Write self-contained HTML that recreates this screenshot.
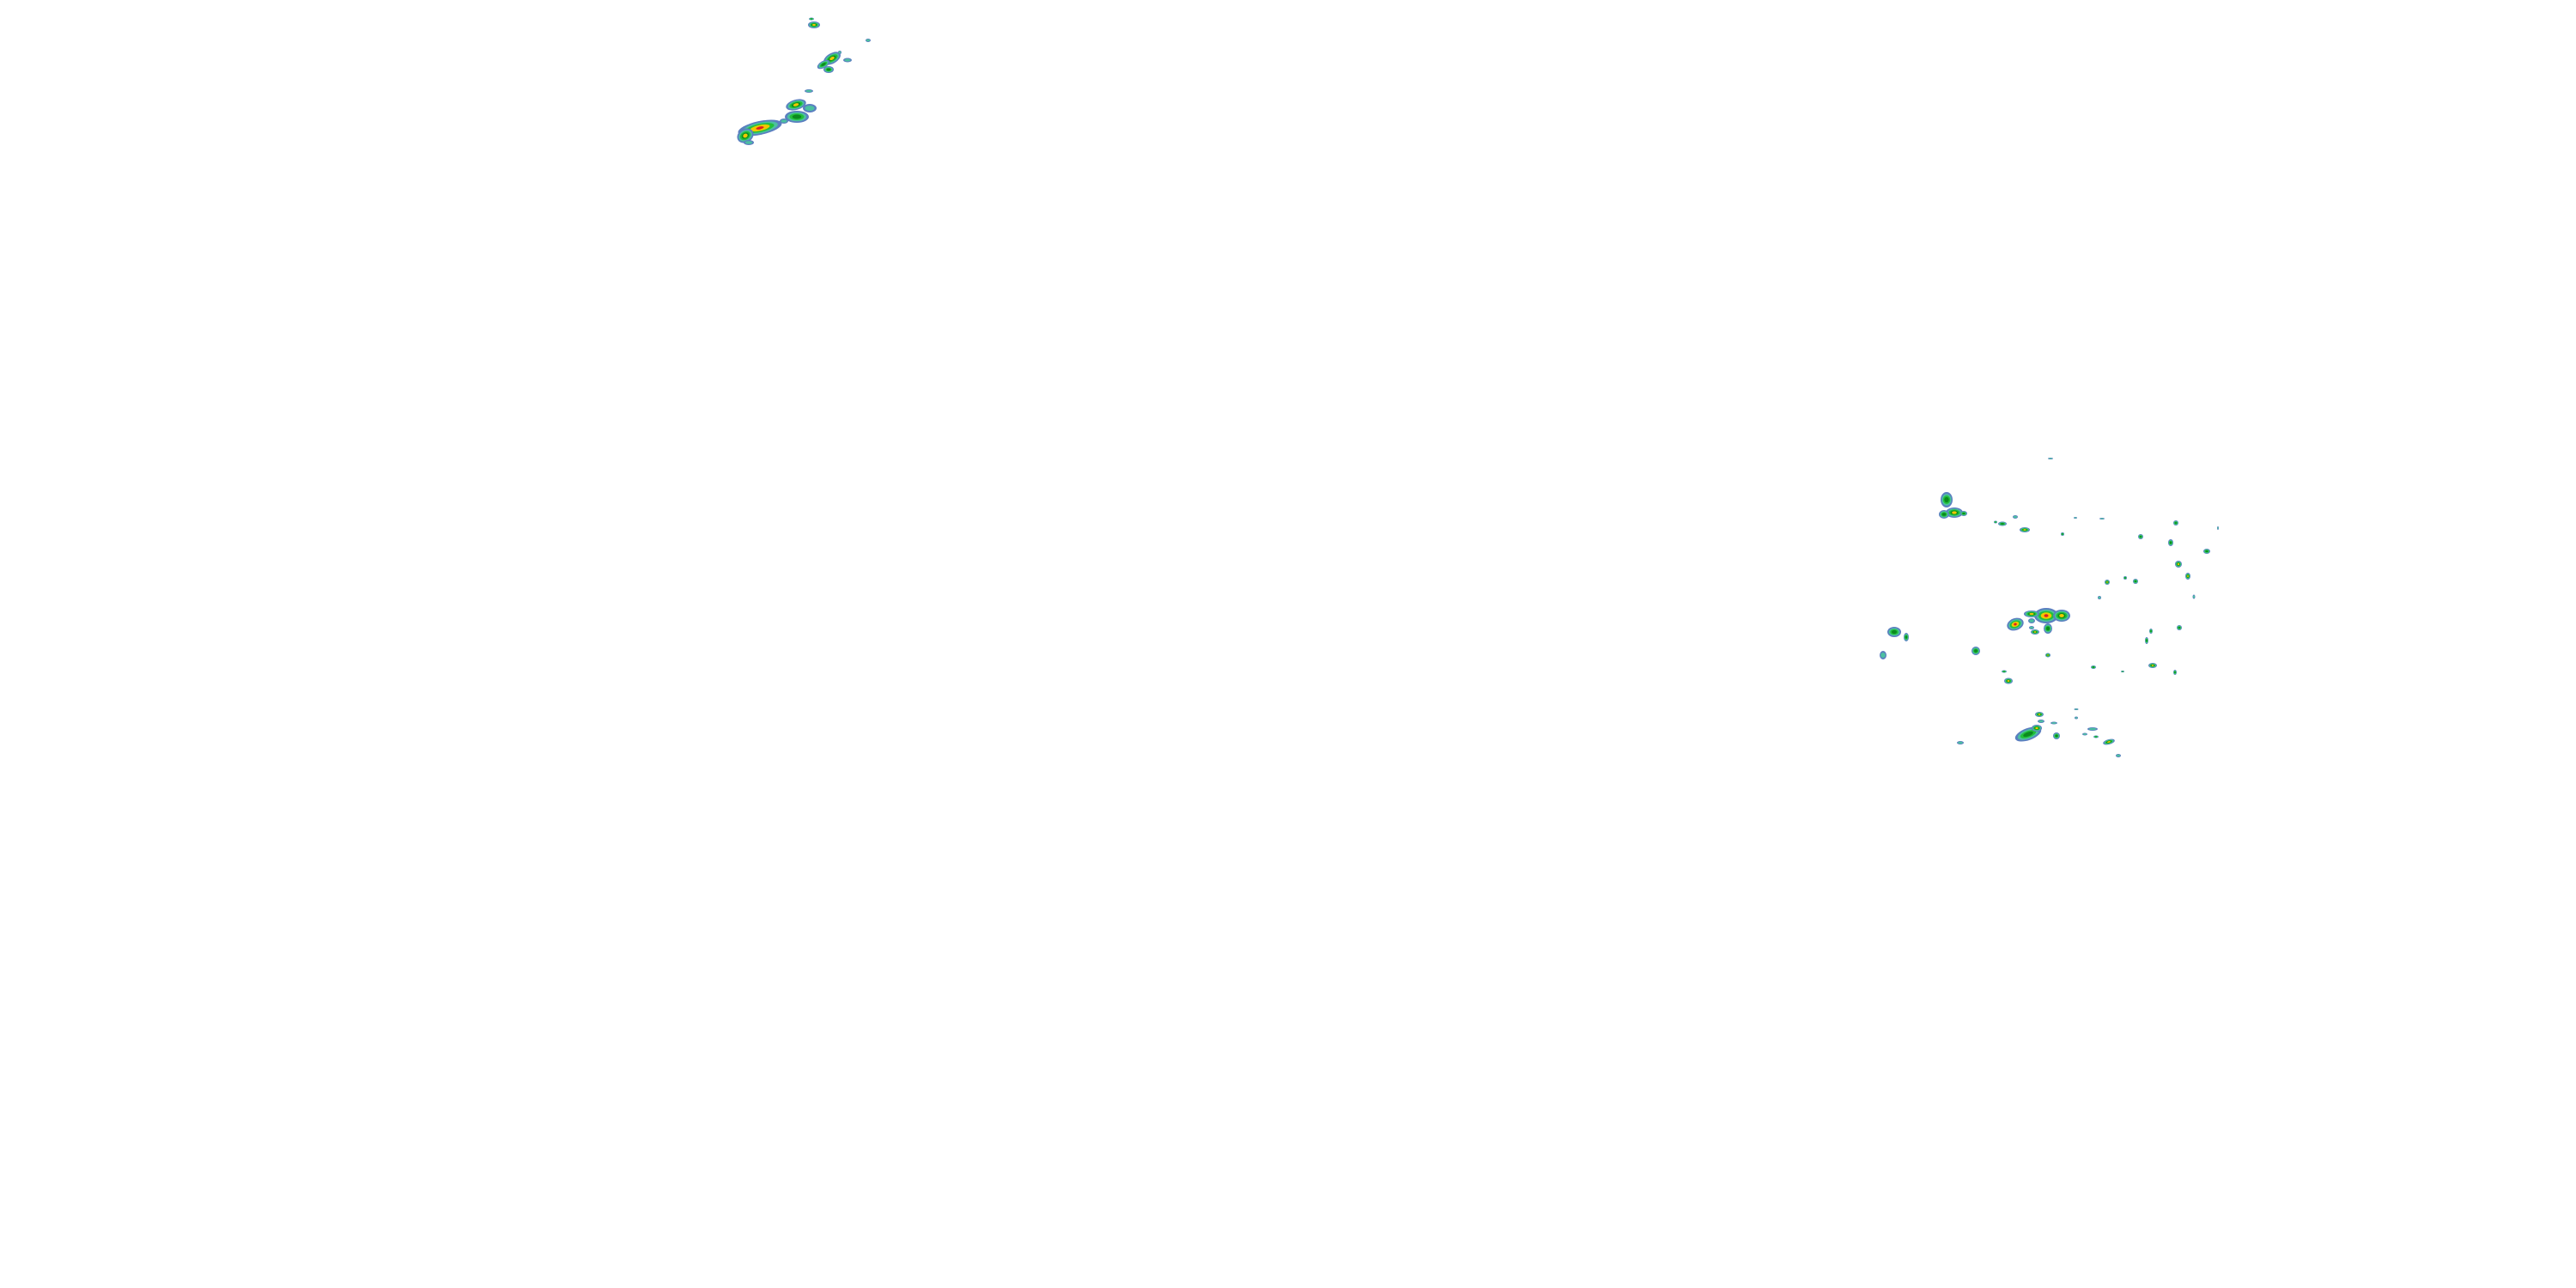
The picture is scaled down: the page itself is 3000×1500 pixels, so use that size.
<!DOCTYPE html>
<html><head><style>html,body{margin:0;padding:0;background:#fff;width:3000px;height:1500px;overflow:hidden}</style></head>
<body>
<svg width="3000" height="1500" xmlns="http://www.w3.org/2000/svg">
<defs>
<g id="b">
<ellipse rx="1" ry="1" fill="#5b7fc0"/>
<ellipse rx="0.8" ry="0.75" fill="#4cc0a0"/>
<ellipse rx="0.6" ry="0.55" fill="#22c03a"/>
<ellipse rx="0.38" ry="0.35" fill="#0b8a20"/>
</g>
<g id="y">
<ellipse rx="1" ry="1" fill="#5b7fc0"/>
<ellipse rx="0.82" ry="0.78" fill="#4cc0a0"/>
<ellipse rx="0.65" ry="0.6" fill="#22c03a"/>
<ellipse rx="0.45" ry="0.42" fill="#0b8a20"/>
<ellipse rx="0.28" ry="0.28" fill="#f0c800"/>
</g>
<g id="r">
<ellipse rx="1" ry="1" fill="#5b7fc0"/>
<ellipse rx="0.82" ry="0.78" fill="#4cc0a0"/>
<ellipse rx="0.65" ry="0.6" fill="#22c03a"/>
<ellipse rx="0.45" ry="0.42" fill="#f0c800"/>
<ellipse rx="0.18" ry="0.2" fill="#e02020"/>
</g>
<g id="t">
<ellipse rx="1" ry="1" fill="#5b7fc0"/>
<ellipse rx="0.7" ry="0.6" fill="#4cc0a0"/>
</g>
</defs>
<!-- top-left cluster -->
<use href="#y" transform="translate(948,29) scale(7,4)"/>
<use href="#b" transform="translate(945,22) scale(3,1.5)"/>
<use href="#y" transform="translate(969,68) rotate(-30) scale(11,6)"/>
<use href="#b" transform="translate(959,75) rotate(-30) scale(8,4)"/>
<use href="#b" transform="translate(965,81) scale(6,4)"/>
<use href="#t" transform="translate(987,70) scale(5,2.5)"/>
<use href="#t" transform="translate(978,61) scale(2,2)"/>
<use href="#t" transform="translate(1011,47) scale(3,2)"/>
<use href="#y" transform="translate(927,122) rotate(-15) scale(12,6)"/>
<use href="#b" transform="translate(928,136) scale(14,7)"/>
<use href="#t" transform="translate(943,126) scale(8,5)"/>
<use href="#t" transform="translate(942,106) scale(5,2)"/>
<use href="#t" transform="translate(913,141) scale(5,3)"/>
<use href="#r" transform="translate(885,149) rotate(-12) scale(26,8)"/>
<use href="#y" transform="translate(868,158) rotate(-30) scale(10,8)"/>
<use href="#t" transform="translate(872,166) scale(6,3)"/>
<!-- right cluster -->
<use href="#t" transform="translate(2388,534) scale(3,1)"/>
<use href="#b" transform="translate(2267,582) scale(7,9)"/>
<use href="#y" transform="translate(2276,597) scale(10,6)"/>
<use href="#b" transform="translate(2264,599) scale(6,5)"/>
<use href="#b" transform="translate(2287,598) scale(4,3)"/>
<use href="#b" transform="translate(2332,610) scale(5,2.5)"/>
<use href="#b" transform="translate(2324,608) scale(2,1.5)"/>
<use href="#y" transform="translate(2358,617) scale(6,3)"/>
<use href="#t" transform="translate(2347,602) scale(3,2)"/>
<use href="#b" transform="translate(2402,622) scale(2,2)"/>
<use href="#t" transform="translate(2417,603) scale(2,1)"/>
<use href="#t" transform="translate(2448,604) scale(3,1)"/>
<use href="#r" transform="translate(2383,717) scale(14,9)"/>
<use href="#y" transform="translate(2366,715) scale(9,4)"/>
<use href="#y" transform="translate(2401,717) scale(10,7)"/>
<use href="#r" transform="translate(2347,727) rotate(-20) scale(10,7)"/>
<use href="#t" transform="translate(2366,723) scale(4,3)"/>
<use href="#y" transform="translate(2370,736) scale(5,3)"/>
<use href="#b" transform="translate(2385,732) scale(5,6)"/>
<use href="#t" transform="translate(2366,731) scale(3,2)"/>
<use href="#b" transform="translate(2206,736) scale(8,6)"/>
<use href="#b" transform="translate(2220,742) scale(3,5)"/>
<use href="#t" transform="translate(2193,763) scale(4,5)"/>
<use href="#b" transform="translate(2301,758) scale(5,5)"/>
<use href="#y" transform="translate(2339,793) scale(5,3.5)"/>
<use href="#b" transform="translate(2334,782) scale(3,1.5)"/>
<use href="#y" transform="translate(2385,763) scale(3,2.5)"/>
<use href="#b" transform="translate(2438,777) scale(3,2)"/>
<use href="#y" transform="translate(2507,775) scale(5,3)"/>
<use href="#b" transform="translate(2533,783) scale(2,3)"/>
<use href="#b" transform="translate(2472,782) scale(2,1)"/>
<use href="#b" transform="translate(2538,731) scale(3,3)"/>
<use href="#b" transform="translate(2505,735) scale(2,3)"/>
<use href="#b" transform="translate(2500,746) scale(2,4)"/>
<use href="#y" transform="translate(2454,678) scale(3,3)"/>
<use href="#b" transform="translate(2487,677) scale(3,3)"/>
<use href="#b" transform="translate(2475,673) scale(2,2)"/>
<use href="#t" transform="translate(2445,696) scale(2,2)"/>
<use href="#y" transform="translate(2537,657) scale(4,4)"/>
<use href="#y" transform="translate(2548,671) scale(3,4)"/>
<use href="#b" transform="translate(2528,632) scale(3,4)"/>
<use href="#b" transform="translate(2570,642) scale(4,3)"/>
<use href="#b" transform="translate(2534,609) scale(3,3)"/>
<use href="#b" transform="translate(2493,625) scale(3,3)"/>
<use href="#t" transform="translate(2555,695) scale(1.5,2.5)"/>
<use href="#t" transform="translate(2583,615) scale(1,2)"/>
<use href="#y" transform="translate(2375,832) scale(5,3)"/>
<use href="#b" transform="translate(2362,855) rotate(-20) scale(16,7)"/>
<use href="#y" transform="translate(2372,848) scale(6,4)"/>
<use href="#t" transform="translate(2377,840) scale(4,2)"/>
<use href="#t" transform="translate(2392,842) scale(4,1.5)"/>
<use href="#b" transform="translate(2395,857) scale(4,4)"/>
<use href="#t" transform="translate(2437,849) scale(6,2)"/>
<use href="#t" transform="translate(2428,855) scale(3,1.5)"/>
<use href="#b" transform="translate(2441,858) scale(3,1.5)"/>
<use href="#y" transform="translate(2456,864) rotate(-15) scale(7,3)"/>
<use href="#t" transform="translate(2283,865) scale(4,2)"/>
<use href="#t" transform="translate(2467,880) scale(3,2)"/>
<use href="#t" transform="translate(2418,826) scale(2.5,1)"/>
<use href="#t" transform="translate(2418,836) scale(2,1.5)"/>
</svg>
</body></html>
